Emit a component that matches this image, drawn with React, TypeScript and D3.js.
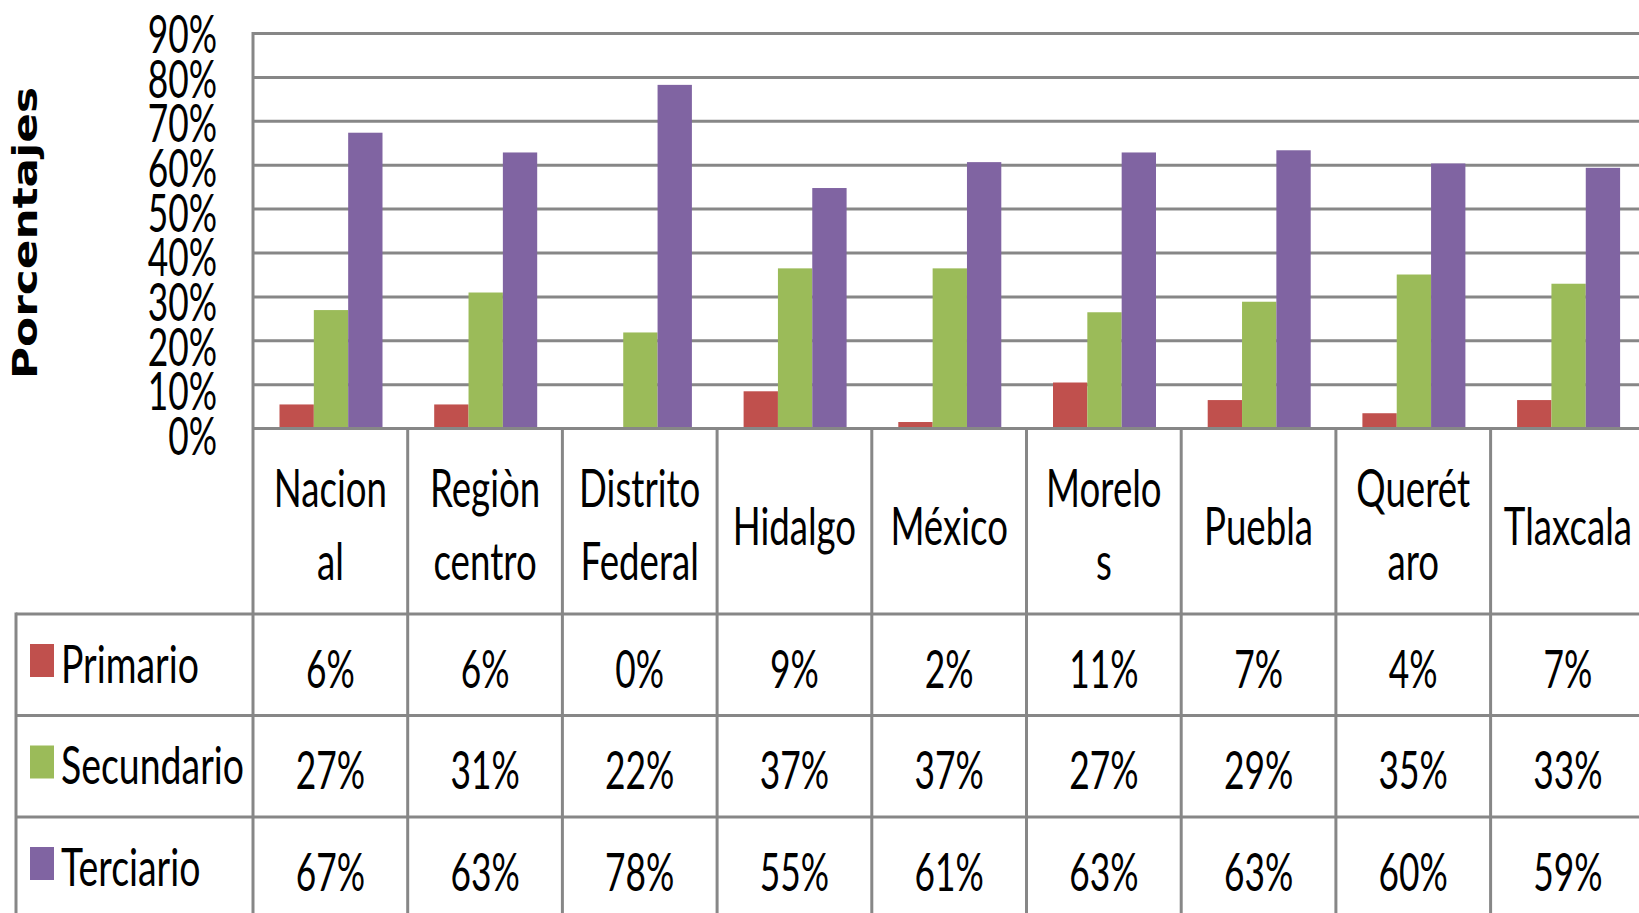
import React from "react";
import * as d3 from "d3";

// ---- data ----
const categoryLines: string[][] = [
  ["Nacion", "al"],
  ["Regiòn", "centro"],
  ["Distrito", "Federal"],
  ["Hidalgo"],
  ["México"],
  ["Morelo", "s"],
  ["Puebla"],
  ["Querét", "aro"],
  ["Tlaxcala"],
];
const seriesNames = ["Primario", "Secundario", "Terciario"];
const primario = [5.5, 5.5, 0, 8.5, 1.5, 10.5, 6.5, 3.5, 6.5];
const secundario = [27.0, 31.0, 21.9, 36.5, 36.5, 26.5, 28.9, 35.1, 33.0];
const terciario = [67.4, 62.9, 78.3, 54.8, 60.7, 62.9, 63.4, 60.4, 59.4];
const yTicks = [0, 10, 20, 30, 40, 50, 60, 70, 80, 90];
const yTitle = "Porcentajes";

const seriesValues = [primario, secundario, terciario];
const colors = ["#C0504D", "#9BBB59", "#8064A2"];

// ---- layout ----
const W = 1639;
const H = 913;
const plotLeft = 253;
const bandW = 154.7;
const plotTop = 33.5;
const plotBottom = 428.6;
const headerBottom = 614;
const rowH = 101.5;
const tableLeft = 16;
const grid = "#878787";
const lw = 3;
const FONT = "Lato, 'Open Sans', sans-serif";
const FS = 52;
const SX_NUM = 0.68;
const SX_CAT = 0.705;
const SX_LEG = 0.72;

export default function App() {
  const keys = categoryLines.map((l) => l.join(""));
  const x = d3
    .scaleBand<string>()
    .domain(keys)
    .range([plotLeft, plotLeft + bandW * keys.length])
    .padding(0);
  const xs = d3.scaleBand<string>().domain(seriesNames).range([26.5, 129.5]).padding(0);
  const y = d3.scaleLinear().domain([0, 90]).range([plotBottom, plotTop]);
  const yLabel = d3.scaleLinear().domain([0, 90]).range([455, 53]);

  const bounds = keys.map((k) => x(k)!).concat([x(keys[keys.length - 1])! + x.bandwidth()]);

  const txt = (
    key: string,
    cx: number,
    cy: number,
    s: string,
    sx: number,
    anchor: "start" | "middle" | "end" = "middle"
  ) => (
    <text
      key={key}
      transform={`translate(${cx},${cy}) scale(${sx},1)`}
      textAnchor={anchor}
      fontFamily={FONT}
      fontSize={FS}
      fill="#000"
    >
      {s}
    </text>
  );

  return (
    <svg
      width={W}
      height={H}
      style={{ position: "fixed", left: 0, top: 0, display: "block", background: "#fff" }}
    >
      <rect x={0} y={0} width={W} height={H} fill="#fff" />
      {/* gridlines */}
      {yTicks.map((t) => (
        <line key={"g" + t} x1={plotLeft} x2={W + 20} y1={y(t)} y2={y(t)} stroke={grid} strokeWidth={lw} />
      ))}
      {/* bars */}
      {keys.map((k, i) =>
        seriesNames.map((s, j) => {
          const v = seriesValues[j][i];
          return (
            <rect
              key={k + s}
              x={x(k)! + xs(s)!}
              y={y(v)}
              width={xs.bandwidth()}
              height={y(0) - y(v)}
              fill={colors[j]}
            />
          );
        })
      )}
      {/* axis line */}
      <line x1={plotLeft} x2={W + 20} y1={y(0)} y2={y(0)} stroke={grid} strokeWidth={lw} />
      {/* y axis & column dividers */}
      <line x1={plotLeft} x2={plotLeft} y1={plotTop - 1.5} y2={H + 5} stroke={grid} strokeWidth={lw} />
      {bounds.slice(1).map((b, i) => (
        <line key={"d" + i} x1={b} x2={b} y1={y(0)} y2={H + 5} stroke={grid} strokeWidth={lw} />
      ))}
      {/* table lines */}
      {[0, 1, 2].map((r) => (
        <line
          key={"h" + r}
          x1={tableLeft}
          x2={W + 20}
          y1={headerBottom + r * rowH}
          y2={headerBottom + r * rowH}
          stroke={grid}
          strokeWidth={lw}
        />
      ))}
      <line x1={tableLeft} x2={tableLeft} y1={headerBottom - 1.5} y2={H + 5} stroke={grid} strokeWidth={lw} />

      {/* y tick labels */}
      {yTicks.map((t) => txt("yl" + t, 217, yLabel(t), `${t}%`, SX_NUM, "end"))}

      {/* y title */}
      <text
        transform={`translate(37,233) rotate(-90)`}
        textAnchor="middle"
        fontFamily="'DejaVu Sans', Verdana, sans-serif"
        fontWeight="bold"
        fontSize={34}
        textLength={292}
        lengthAdjust="spacingAndGlyphs"
        fill="#000"
      >
        {yTitle}
      </text>

      {/* category labels */}
      {categoryLines.map((lines, i) => {
        const cx = x(keys[i])! + x.bandwidth() / 2;
        if (lines.length === 1) return txt("c" + i, cx, 545, lines[0], SX_CAT);
        return (
          <g key={"c" + i}>
            {txt("c" + i + "a", cx, 507, lines[0], SX_CAT)}
            {txt("c" + i + "b", cx, 580, lines[1], SX_CAT)}
          </g>
        );
      })}

      {/* legend keys and values */}
      {seriesNames.map((s, j) => {
        const top = headerBottom + j * rowH;
        return (
          <g key={"row" + s}>
            <rect x={30} y={top + 30} width={24} height={33} fill={colors[j]} />
            {txt("ln" + s, 61, top + 68.5, s, SX_LEG, "start")}
            {keys.map((k, i) =>
              txt(
                "v" + s + k,
                x(k)! + x.bandwidth() / 2,
                top + 73.5,
                `${Math.round(seriesValues[j][i])}%`,
                SX_NUM
              )
            )}
          </g>
        );
      })}
    </svg>
  );
}
